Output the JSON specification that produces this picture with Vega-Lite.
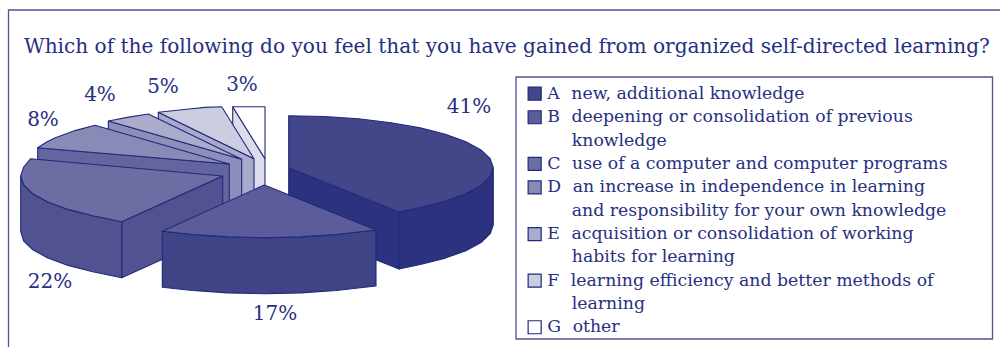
{
  "$schema": "https://vega.github.io/schema/vega-lite/v6.json",
  "width": 1000,
  "height": 347,
  "autosize": "none",
  "padding": 0,
  "background": "white",
  "title": {
    "text": "Which of the following do you feel that you have gained from organized self-directed learning?",
    "anchor": "start",
    "frame": "group",
    "orient": "top",
    "dx": 24,
    "offset": -73,
    "baseline": "alphabetic",
    "font": "DejaVu Serif",
    "fontSize": 20.1,
    "fontWeight": "normal",
    "color": "#27307f"
  },
  "datasets": {
    "frames": [
      {"x": 8.5, "x2": 1010, "y": 10, "y2": 360},
      {"x": 516, "x2": 992.5, "y": 77, "y2": 339}
    ],
    "sides": [
      {"slice":"A","face":"A-cut","n":0,"x":288.7,"y":167.7},{"slice":"A","face":"A-cut","n":1,"x":399,"y":212},{"slice":"A","face":"A-cut","n":2,"x":399,"y":269},{"slice":"A","face":"A-cut","n":3,"x":288.7,"y":224.7},{"slice":"A","face":"A-cut","n":4,"x":288.7,"y":167.7},
      {"slice":"A","face":"A-rim","n":0,"x":399,"y":212},{"slice":"A","face":"A-rim","n":1,"x":420.3,"y":207.5},{"slice":"A","face":"A-rim","n":2,"x":445.4,"y":201.1},{"slice":"A","face":"A-rim","n":3,"x":465.9,"y":193.7},{"slice":"A","face":"A-rim","n":4,"x":481,"y":185.5},{"slice":"A","face":"A-rim","n":5,"x":490.2,"y":176.7},{"slice":"A","face":"A-rim","n":6,"x":493.3,"y":167.7},{"slice":"A","face":"A-rim","n":7,"x":493.3,"y":224.7},{"slice":"A","face":"A-rim","n":8,"x":490.2,"y":233.7},{"slice":"A","face":"A-rim","n":9,"x":481,"y":242.5},{"slice":"A","face":"A-rim","n":10,"x":465.9,"y":250.7},{"slice":"A","face":"A-rim","n":11,"x":445.4,"y":258.1},{"slice":"A","face":"A-rim","n":12,"x":420.3,"y":264.5},{"slice":"A","face":"A-rim","n":13,"x":399,"y":269},{"slice":"A","face":"A-rim","n":14,"x":399,"y":212},
      {"slice":"G","face":"G-cut","n":0,"x":232.7,"y":106.7},{"slice":"G","face":"G-cut","n":1,"x":265,"y":158.7},{"slice":"G","face":"G-cut","n":2,"x":265,"y":214},{"slice":"G","face":"G-cut","n":3,"x":232.7,"y":162.7},{"slice":"G","face":"G-cut","n":4,"x":232.7,"y":106.7},
      {"slice":"F","face":"F-cut","n":0,"x":158.3,"y":112.3},{"slice":"F","face":"F-cut","n":1,"x":254,"y":158.7},{"slice":"F","face":"F-cut","n":2,"x":254,"y":214},{"slice":"F","face":"F-cut","n":3,"x":158.3,"y":168},{"slice":"F","face":"F-cut","n":4,"x":158.3,"y":112.3},
      {"slice":"E","face":"E-cut","n":0,"x":108.3,"y":121},{"slice":"E","face":"E-cut","n":1,"x":241.7,"y":159.3},{"slice":"E","face":"E-cut","n":2,"x":241.7,"y":215},{"slice":"E","face":"E-cut","n":3,"x":108.3,"y":176.7},{"slice":"E","face":"E-cut","n":4,"x":108.3,"y":121},
      {"slice":"D","face":"D-cut","n":0,"x":37.7,"y":147.7},{"slice":"D","face":"D-cut","n":1,"x":229.3,"y":164},{"slice":"D","face":"D-cut","n":2,"x":229.3,"y":220},{"slice":"D","face":"D-cut","n":3,"x":37.7,"y":203.7},{"slice":"D","face":"D-cut","n":4,"x":37.7,"y":147.7},
      {"slice":"C","face":"C-cut","n":0,"x":222.7,"y":176},{"slice":"C","face":"C-cut","n":1,"x":121.7,"y":221.7},{"slice":"C","face":"C-cut","n":2,"x":121.7,"y":277.7},{"slice":"C","face":"C-cut","n":3,"x":222.7,"y":232},{"slice":"C","face":"C-cut","n":4,"x":222.7,"y":176},
      {"slice":"C","face":"C-rim","n":0,"x":121.7,"y":221.7},{"slice":"C","face":"C-rim","n":1,"x":92.8,"y":215.8},{"slice":"C","face":"C-rim","n":2,"x":68,"y":209.4},{"slice":"C","face":"C-rim","n":3,"x":47.8,"y":202},{"slice":"C","face":"C-rim","n":4,"x":32.8,"y":193.8},{"slice":"C","face":"C-rim","n":5,"x":23.7,"y":185},{"slice":"C","face":"C-rim","n":6,"x":20.7,"y":176},{"slice":"C","face":"C-rim","n":7,"x":20.7,"y":231.7},{"slice":"C","face":"C-rim","n":8,"x":23.7,"y":241},{"slice":"C","face":"C-rim","n":9,"x":32.8,"y":249.8},{"slice":"C","face":"C-rim","n":10,"x":47.8,"y":258},{"slice":"C","face":"C-rim","n":11,"x":68,"y":265.4},{"slice":"C","face":"C-rim","n":12,"x":92.8,"y":271.8},{"slice":"C","face":"C-rim","n":13,"x":121.7,"y":277.7},{"slice":"C","face":"C-rim","n":14,"x":121.7,"y":221.7},
      {"slice":"B","face":"B-rim","n":0,"x":376,"y":230},{"slice":"B","face":"B-rim","n":1,"x":336.1,"y":234.5},{"slice":"B","face":"B-rim","n":2,"x":300.8,"y":236.9},{"slice":"B","face":"B-rim","n":3,"x":264.3,"y":237.7},{"slice":"B","face":"B-rim","n":4,"x":227.8,"y":236.9},{"slice":"B","face":"B-rim","n":5,"x":192.5,"y":234.5},{"slice":"B","face":"B-rim","n":6,"x":162.3,"y":231.3},{"slice":"B","face":"B-rim","n":7,"x":162.3,"y":287.3},{"slice":"B","face":"B-rim","n":8,"x":192.5,"y":290.5},{"slice":"B","face":"B-rim","n":9,"x":227.8,"y":292.9},{"slice":"B","face":"B-rim","n":10,"x":264.3,"y":293.7},{"slice":"B","face":"B-rim","n":11,"x":300.8,"y":292.9},{"slice":"B","face":"B-rim","n":12,"x":336.1,"y":290.5},{"slice":"B","face":"B-rim","n":13,"x":376,"y":286},{"slice":"B","face":"B-rim","n":14,"x":376,"y":230}
    ],
    "tops": [
      {"slice":"A","n":0,"x":288.7,"y":167.7},{"slice":"A","n":1,"x":288.7,"y":115.7},{"slice":"A","n":2,"x":324.3,"y":116.5},{"slice":"A","n":3,"x":358.7,"y":118.8},{"slice":"A","n":4,"x":391,"y":122.7},{"slice":"A","n":5,"x":420.3,"y":127.9},{"slice":"A","n":6,"x":445.4,"y":134.3},{"slice":"A","n":7,"x":465.9,"y":141.7},{"slice":"A","n":8,"x":481,"y":149.9},{"slice":"A","n":9,"x":490.2,"y":158.7},{"slice":"A","n":10,"x":493.3,"y":167.7},{"slice":"A","n":11,"x":490.2,"y":176.7},{"slice":"A","n":12,"x":481,"y":185.5},{"slice":"A","n":13,"x":465.9,"y":193.7},{"slice":"A","n":14,"x":445.4,"y":201.1},{"slice":"A","n":15,"x":420.3,"y":207.5},{"slice":"A","n":16,"x":399,"y":212},{"slice":"A","n":17,"x":288.7,"y":167.7},
      {"slice":"G","n":0,"x":265,"y":158.7},{"slice":"G","n":1,"x":232.7,"y":106.7},{"slice":"G","n":2,"x":265,"y":106.7},{"slice":"G","n":3,"x":265,"y":158.7},
      {"slice":"F","n":0,"x":254,"y":158.7},{"slice":"F","n":1,"x":158.3,"y":112.3},{"slice":"F","n":2,"x":189,"y":109},{"slice":"F","n":3,"x":205,"y":107.4},{"slice":"F","n":4,"x":221.7,"y":106.7},{"slice":"F","n":5,"x":254,"y":158.7},
      {"slice":"E","n":0,"x":241.7,"y":159.3},{"slice":"E","n":1,"x":108.3,"y":121},{"slice":"E","n":2,"x":127.3,"y":117.4},{"slice":"E","n":3,"x":148.3,"y":114},{"slice":"E","n":4,"x":241.7,"y":159.3},
      {"slice":"D","n":0,"x":229.3,"y":164},{"slice":"D","n":1,"x":37.7,"y":147.7},{"slice":"D","n":2,"x":46.7,"y":142},{"slice":"D","n":3,"x":54.8,"y":138},{"slice":"D","n":4,"x":74.9,"y":130.6},{"slice":"D","n":5,"x":95,"y":125.3},{"slice":"D","n":6,"x":229.3,"y":164},
      {"slice":"C","n":0,"x":222.7,"y":176},{"slice":"C","n":1,"x":121.7,"y":221.7},{"slice":"C","n":2,"x":92.8,"y":215.8},{"slice":"C","n":3,"x":68,"y":209.4},{"slice":"C","n":4,"x":47.8,"y":202},{"slice":"C","n":5,"x":32.8,"y":193.8},{"slice":"C","n":6,"x":23.7,"y":185},{"slice":"C","n":7,"x":20.7,"y":176},{"slice":"C","n":8,"x":23.7,"y":167},{"slice":"C","n":9,"x":30.7,"y":158.7},{"slice":"C","n":10,"x":222.7,"y":176},
      {"slice":"B","n":0,"x":264.3,"y":185},{"slice":"B","n":1,"x":376,"y":230},{"slice":"B","n":2,"x":336.1,"y":234.5},{"slice":"B","n":3,"x":300.8,"y":236.9},{"slice":"B","n":4,"x":264.3,"y":237.7},{"slice":"B","n":5,"x":227.8,"y":236.9},{"slice":"B","n":6,"x":192.5,"y":234.5},{"slice":"B","n":7,"x":162.3,"y":231.3},{"slice":"B","n":8,"x":264.3,"y":185}
    ],
    "shares": [
      {"slice":"A","share":0.41,"x":469,"y":107},
      {"slice":"B","share":0.17,"x":275,"y":314},
      {"slice":"C","share":0.22,"x":50,"y":282},
      {"slice":"D","share":0.08,"x":43,"y":120},
      {"slice":"E","share":0.04,"x":100,"y":95},
      {"slice":"F","share":0.05,"x":163,"y":87},
      {"slice":"G","share":0.03,"x":242,"y":85}
    ]
  },
  "encoding": {
    "x": {"field": "x", "type": "quantitative", "scale": {"domain": [0, 1000], "nice": false, "zero": false}, "axis": null},
    "y": {"field": "y", "type": "quantitative", "scale": {"domain": [347, 0], "nice": false, "zero": false}, "axis": null}
  },
  "layer": [
    {
      "data": {"name": "frames"},
      "mark": {"type": "rect", "fill": null, "stroke": "#4d5399", "strokeWidth": 1.3},
      "encoding": {
        "x2": {"field": "x2"},
        "y2": {"field": "y2"}
      }
    },
    {
      "data": {"name": "sides"},
      "mark": {"type": "line", "stroke": "#1f2a7c", "strokeWidth": 1.1, "strokeJoin": "round"},
      "encoding": {
        "detail": {"field": "face"},
        "order": {"field": "n", "type": "quantitative"},
        "fill": {
          "field": "slice", "type": "nominal", "legend": null,
          "scale": {"domain": ["A","B","C","D","E","F","G"], "range": ["#2c327f","#3f4487","#525291","#64649f","#8e8eba","#a9a9cb","#dcdcea"]}
        }
      }
    },
    {
      "data": {"name": "tops"},
      "mark": {"type": "line", "stroke": "#1f2a7c", "strokeWidth": 1.1, "strokeJoin": "round"},
      "encoding": {
        "order": {"field": "n", "type": "quantitative"},
        "fill": {
          "field": "slice", "type": "nominal",
          "scale": {"domain": ["A","B","C","D","E","F","G"], "range": ["#43478a","#5c5c9a","#6d6da3","#8a8ab7","#ababcc","#cdcde2","#ffffff"]},
          "legend": {
            "orient": "none",
            "legendX": 526,
            "legendY": 85,
            "title": null,
            "padding": 0,
            "symbolType": "square",
            "symbolSize": 170,
            "symbolStrokeColor": "#1f2a7c",
            "symbolStrokeWidth": 1.2,
            "symbolBaseline": "top",
            "labelBaseline": "top",
            "labelFont": "DejaVu Serif",
            "labelFontSize": 17.3,
            "labelColor": "#27307f",
            "labelOffset": 4,
            "labelLimit": 470,
            "rowPadding": 4.6,
            "labelExpr": "{'A':['A\u2002\u2006new, additional knowledge'],'B':['B\u2002\u2006deepening or consolidation of previous','\u200b\u2003\u2005\u2006knowledge'],'C':['C\u2002\u2006use of a computer and computer programs'],'D':['D\u2002\u2006an increase in independence in learning','\u200b\u2003\u2005\u2006and responsibility for your own knowledge'],'E':['E\u2002\u2006acquisition or consolidation of working','\u200b\u2003\u2005\u2006habits for learning'],'F':['F\u2002\u2006learning efficiency and better methods of','\u200b\u2003\u2005\u2006learning'],'G':['G\u2002\u2006other']}[datum.label]"
          }
        }
      }
    },
    {
      "data": {"name": "shares"},
      "mark": {"type": "text", "font": "DejaVu Serif", "fontSize": 20, "color": "#27307f", "align": "center", "baseline": "middle"},
      "encoding": {
        "text": {"field": "share", "type": "quantitative", "format": ".0%"}
      }
    }
  ],
  "resolve": {"scale": {"fill": "independent"}},
  "config": {
    "view": {"stroke": null},
    "style": {"guide-label": {"lineHeight": 23.3, "dy": -9}}
  }
}
